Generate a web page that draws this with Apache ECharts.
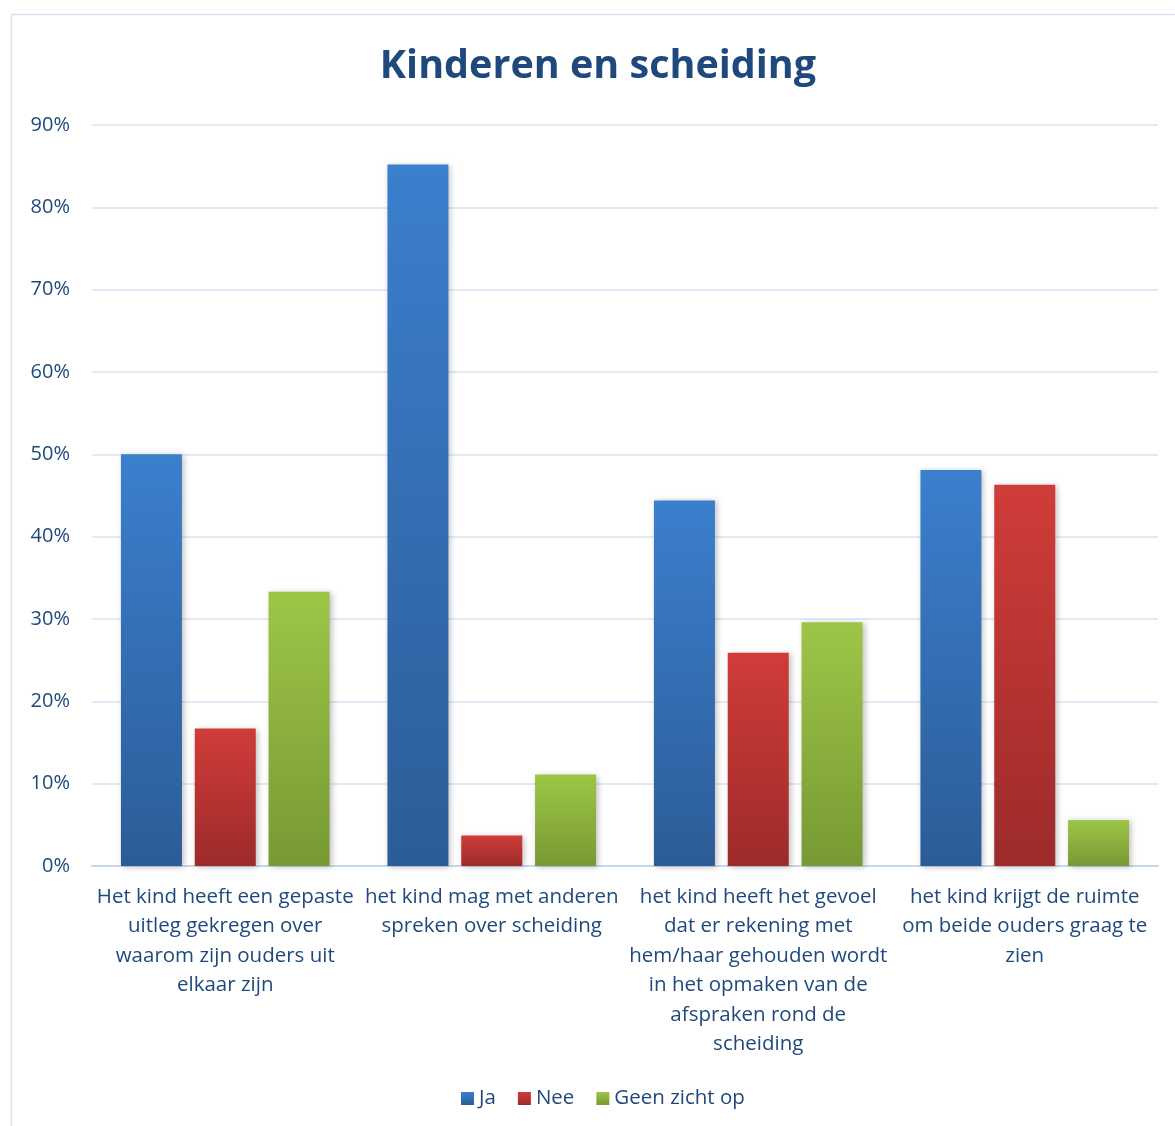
<!DOCTYPE html>
<html>
<head>
<meta charset="utf-8">
<script src="https://cdn.jsdelivr.net/npm/echarts@6/dist/echarts.min.js"></script>
<style>
html,body{margin:0;padding:0;background:#fff;}
#c{width:1175px;height:1126px;}
</style>
</head>
<body>
<div id="c"></div>
<script>
var categories = [
  "Het kind heeft een gepaste\nuitleg gekregen over\nwaarom zijn ouders uit\nelkaar zijn",
  "het kind mag met anderen\nspreken over scheiding",
  "het kind heeft het gevoel\ndat er rekening met\nhem/haar gehouden wordt\nin het opmaken van de\nafspraken rond de\nscheiding",
  "het kind krijgt de ruimte\nom beide ouders graag te\nzien"
];
var seriesNames = ["Ja", "Nee", "Geen zicht op"];
var ja = [50.0, 85.2, 44.4, 48.1];
var nee = [16.7, 3.7, 25.9, 46.3];
var geen = [33.3, 11.1, 29.6, 5.6];
var yTicks = [0, 10, 20, 30, 40, 50, 60, 70, 80, 90];

var textColor = '#1F497D';
var font = 'Open Sans';

function grad(top, bottom) {
  return new echarts.graphic.LinearGradient(0, 0, 0, 1, [
    {offset: 0, color: top}, {offset: 1, color: bottom}
  ]);
}
var colors = [grad('#3B7FCD', '#2C5C97'), grad('#D03C39', '#9C2B2A'), grad('#9DC647', '#789935')];
var legendColors = ['#3A7BC8', '#C43735', '#8DB33F'];
var values = [ja, nee, geen];

var chart = echarts.init(document.getElementById('c'), null, {renderer: 'canvas'});
chart.setOption({
  backgroundColor: '#ffffff',
  animation: false,
  color: legendColors,
  graphic: [{
    type: 'rect',
    shape: {x: 11.5, y: 14.5, width: 1300, height: 1300},
    style: {fill: 'none', stroke: '#D6E2F1', lineWidth: 1.5},
    silent: true, z: -1
  }],
  title: {
    text: 'Kinderen en scheiding',
    left: 593,
    textAlign: 'center',
    top: 42,
    textStyle: {fontFamily: font, fontWeight: 'bold', fontSize: 39.5, color: textColor}
  },
  legend: {
    bottom: 12,
    left: 456,
    itemWidth: 13,
    itemHeight: 13,
    itemGap: 22,
    icon: 'rect',
    textStyle: {fontFamily: font, fontSize: 20.5, color: textColor},
    data: seriesNames
  },
  grid: {left: 92, right: 17, top: 125, bottom: 260, containLabel: false},
  xAxis: {
    type: 'category',
    data: categories,
    axisTick: {show: false},
    axisLine: {lineStyle: {color: '#C9D7EA', width: 2}},
    axisLabel: {
      interval: 0,
      margin: 16,
      fontFamily: font,
      fontSize: 20.5,
      lineHeight: 29.5,
      color: textColor,
      align: 'center'
    }
  },
  yAxis: {
    type: 'value',
    min: 0,
    max: 90,
    interval: 10,
    axisLine: {show: false},
    axisTick: {show: false},
    splitLine: {lineStyle: {color: '#D9E4F2', width: 1.5}},
    axisLabel: {
      margin: 22,
      fontFamily: font,
      fontSize: 20,
      color: textColor,
      formatter: function (v) { return yTicks.indexOf(v) >= 0 ? v + '%' : ''; }
    }
  },
  series: seriesNames.map(function (name, i) {
    return {
      name: name,
      type: 'bar',
      data: values[i],
      barWidth: 61,
      barGap: '21%',
      itemStyle: {
        color: colors[i],
        shadowColor: 'rgba(0,0,0,0.25)',
        shadowBlur: 6,
        shadowOffsetX: 2,
        shadowOffsetY: 1
      }
    };
  })
});
</script>
</body>
</html>
